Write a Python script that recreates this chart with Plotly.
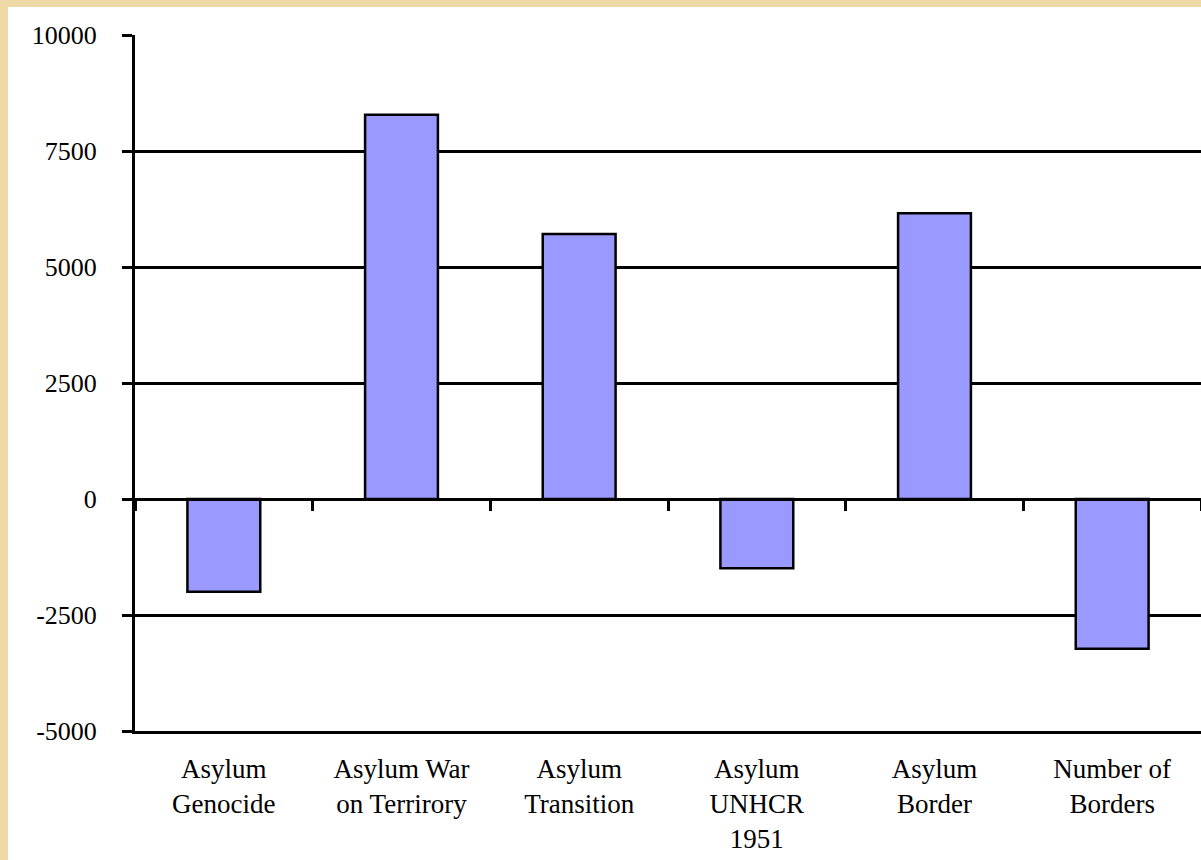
import plotly.graph_objects as go

categories = ["Asylum<br>Genocide", "Asylum War<br>on Terrirory", "Asylum<br>Transition",
              "Asylum<br>UNHCR<br>1951", "Asylum<br>Border", "Number of<br>Borders"]
values = [-2000, 8280, 5710, -1490, 6160, -3230]
y_ticks = [-5000, -2500, 0, 2500, 5000, 7500, 10000]
y_tick_labels = ["-5000", "-2500", "0", "2500", "5000", "7500", "10000"]

FONT = dict(family="Liberation Serif", size=27, color="black")
YFONT = dict(family="Liberation Serif", size=26, color="black")

fig = go.Figure()
fig.add_trace(go.Bar(
    x=categories, y=values,
    marker=dict(color="#9999FF", line=dict(color="black", width=2.5)),
    showlegend=False,
))
# zero-line axis with boundary ticks (no labels)
fig.add_trace(go.Bar(x=categories, y=[None]*6, xaxis="x2", showlegend=False, hoverinfo="skip"))

W, H = 1201, 860
L, R, T, B = 135, 0, 35, 129
pw, ph = W - L - R, H - T - B

fig.update_layout(
    width=W, height=H,
    margin=dict(l=L, r=R, t=T, b=B),
    paper_bgcolor="#EFD9A6",
    plot_bgcolor="white",
    bargap=0.59,
    font=FONT,
    xaxis=dict(
        type="category", categoryorder="array", categoryarray=categories,
        showline=True, linecolor="black", linewidth=2.5,
        showgrid=False, ticks="", tickfont=FONT, ticklabelstandoff=12,
        range=[-0.5, 5.5], fixedrange=True,
    ),
    xaxis2=dict(
        type="category", categoryorder="array", categoryarray=categories,
        overlaying="x", anchor="free", position=(0 - y_ticks[0]) / (y_ticks[-1] - y_ticks[0]),
        showline=True, linecolor="black", linewidth=2.5,
        ticks="outside", tickson="boundaries", ticklen=10, tickwidth=2.5, tickcolor="black",
        showticklabels=False, showgrid=False, range=[-0.5, 5.5],
    ),
    yaxis=dict(
        range=[y_ticks[0], y_ticks[-1]], tickvals=y_ticks, ticktext=y_tick_labels,
        showline=True, linecolor="black", linewidth=3,
        showgrid=True, gridcolor="black", gridwidth=2.5,
        zeroline=True, zerolinecolor="black", zerolinewidth=2.5,
        ticks="outside", ticklen=10, tickwidth=2.5, tickcolor="black",
        tickfont=YFONT, ticklabelstandoff=20,
    ),
    shapes=[dict(
        type="rect", xref="paper", yref="paper", layer="below",
        x0=(8 - L) / pw, x1=(W + 5 - L) / pw,
        y0=-(B + 5) / ph, y1=1 + (T - 7) / ph,
        fillcolor="white", line=dict(width=0),
    )],
)

fig.write_html("out.html")
